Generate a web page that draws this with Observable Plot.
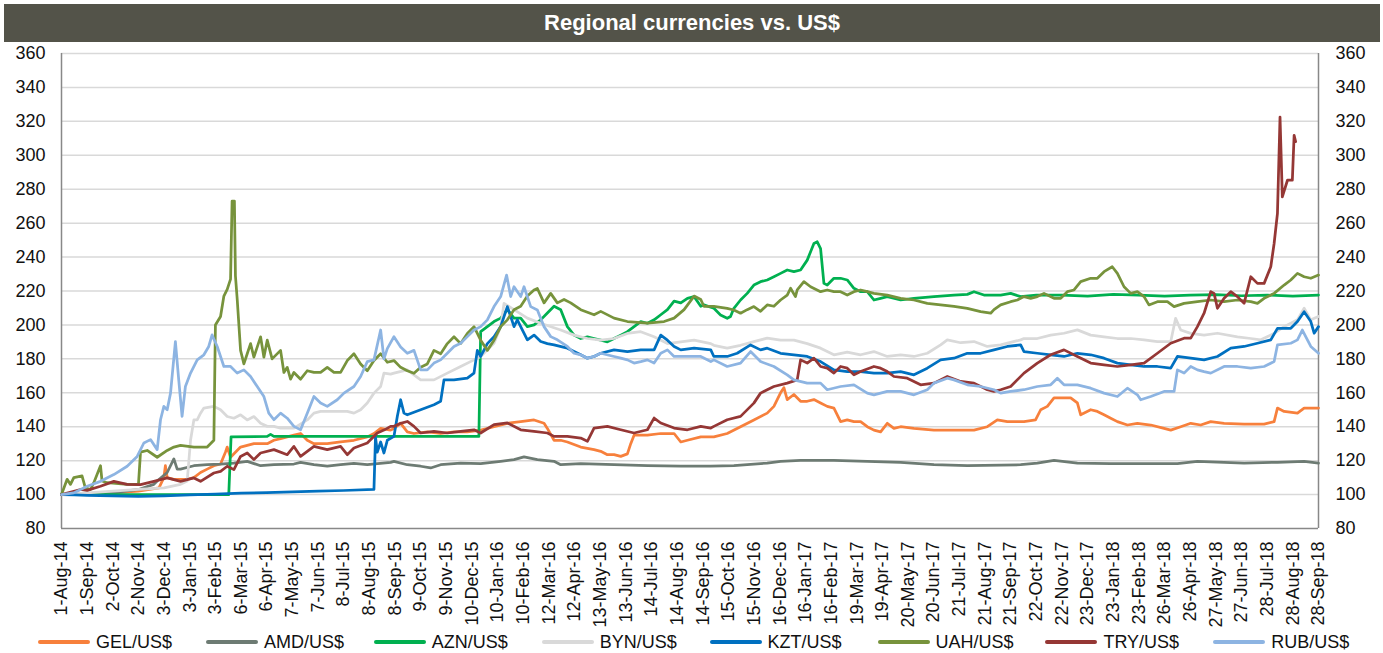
<!DOCTYPE html>
<html>
<head>
<meta charset="utf-8">
<script src="https://cdn.jsdelivr.net/npm/d3@7"></script>
<script src="https://cdn.jsdelivr.net/npm/@observablehq/plot@0.6"></script>
<style>
  html, body { margin: 0; padding: 0; background: #fff; }
  body { width: 1383px; height: 653px; position: relative; overflow: hidden;
         font-family: "Liberation Sans", Arial, sans-serif; }
  #title { position: absolute; left: 4px; top: 4px; width: 1376px; height: 38px;
           background: #535349; color: #fff; font-weight: bold; font-size: 22px;
           line-height: 38px; text-align: center; }
  #chart { position: absolute; left: 0; top: 42px; }
  #legend { position: absolute; left: 0; top: 631px; width: 1383px; height: 22px; }
  .item { position: absolute; top: 0; height: 22px; font-size: 18px; color: #111; white-space: nowrap; }
  .swatch { position: absolute; left: 0; top: 9px; width: 52px; height: 4px; border-radius: 2px; }
  .lbl { position: absolute; left: 58px; top: 0; line-height: 22px; }
</style>
</head>
<body>
<div id="title">Regional currencies vs. US$</div>
<div id="chart"></div>
<div id="legend"></div>
<script>
// x positions are in tick-label units: 0 = 1-Aug-14 ... 49 = 28-Sep-18
const xLabels = ["1-Aug-14","1-Sep-14","2-Oct-14","2-Nov-14","3-Dec-14","3-Jan-15","3-Feb-15","6-Mar-15","6-Apr-15","7-May-15","7-Jun-15","8-Jul-15","8-Aug-15","8-Sep-15","9-Oct-15","9-Nov-15","10-Dec-15","10-Jan-16","10-Feb-16","12-Mar-16","12-Apr-16","13-May-16","13-Jun-16","14-Jul-16","14-Aug-16","14-Sep-16","15-Oct-16","15-Nov-16","16-Dec-16","16-Jan-17","16-Feb-17","19-Mar-17","19-Apr-17","20-May-17","20-Jun-17","21-Jul-17","21-Aug-17","21-Sep-17","22-Oct-17","22-Nov-17","23-Dec-17","23-Jan-18","23-Feb-18","26-Mar-18","26-Apr-18","27-May-18","27-Jun-18","28-Jul-18","28-Aug-18","28-Sep-18"];
const yTicks = [80,100,120,140,160,180,200,220,240,260,280,300,320,340,360];

const seriesNames = ["GEL/US$","AMD/US$","AZN/US$","BYN/US$","KZT/US$","UAH/US$","TRY/US$","RUB/US$"];
const seriesColors = ["#f7803c","#6d7b73","#00b050","#d9d9d9","#0070c0","#77933c","#953735","#8db4e2"];

const gel = [[0,100],[1,100.5],[2,101],[3,102],[3.8,104],[3.99,110],[4.05,117],[4.12,110],[4.38,109],[4.9,109],[5.16,110],[5.42,113],[5.68,115],[5.94,117],[6.2,118],[6.39,125],[6.46,128],[6.59,122],[6.98,128],[7.24,129],[7.5,130],[8.02,130],[8.28,132],[8.54,133],[9.06,135],[9.32,136],[9.58,132],[9.84,130],[10.36,130],[10.88,131],[11.4,132],[11.92,134],[12.18,136],[12.44,139],[12.83,138],[12.96,139],[13.22,142],[13.48,137],[13.74,136],[14.26,137],[14.78,136],[15.3,137],[15.82,137],[16.34,138],[16.86,140],[17.38,142],[17.9,143],[18.42,144],[18.81,142],[18.94,139],[19.2,132],[19.46,132],[19.72,131],[20.24,128],[20.76,126.5],[21.02,125.5],[21.28,123.5],[21.54,123.5],[21.8,122.5],[22.06,124],[22.19,130],[22.32,135],[22.84,135],[23.36,136],[23.88,136],[24.14,131],[24.4,132],[24.92,134],[25.43,134],[25.95,136],[26.47,140],[26.99,144],[27.51,148],[27.77,152],[28.03,160],[28.16,163],[28.29,156],[28.55,159],[28.81,155],[29.07,155],[29.33,156],[29.59,154],[29.85,152],[30.11,151],[30.37,143],[30.63,144],[30.89,143],[31.15,143],[31.41,140],[31.67,138],[31.93,137],[32.19,142],[32.45,139],[32.71,140],[33.23,139],[34.01,138],[34.79,138],[35.57,138],[36.09,140],[36.48,144],[36.87,143],[37.52,143],[37.97,144],[38.17,150],[38.43,152],[38.69,157],[38.95,157],[39.34,157],[39.6,154],[39.73,147],[40.12,150],[40.38,149],[40.64,147],[40.9,145],[41.16,143],[41.55,141],[41.94,142],[42.46,141],[42.98,139],[43.24,138],[43.63,140],[44.02,142],[44.41,141],[44.8,143],[45.32,142],[46.1,141.5],[46.88,141.5],[47.27,143],[47.4,151],[47.66,149],[48.18,148],[48.44,151],[49,151]];

const amd = [[0,100],[1,100.5],[2,101],[3,103],[3.6,106],[3.73,108],[4.12,113],[4.38,121],[4.51,115],[4.64,115],[5.16,117],[5.68,117.6],[6.2,118],[6.72,118.6],[7.24,119.6],[7.76,117],[8.28,117.6],[9.06,118],[9.32,119],[9.84,117.6],[10.36,116.7],[10.88,117.6],[11.4,118.4],[11.92,117.6],[12.83,119],[12.96,119.6],[13.48,117.6],[14.0,116.7],[14.39,115.7],[14.78,117.6],[15.56,118.6],[16.34,118.2],[17.12,119.6],[17.64,120.6],[18.03,122.2],[18.55,120.6],[19.2,119.6],[19.46,117.6],[20.24,118.2],[21.54,117.6],[22.84,117],[24.14,116.7],[25.31,116.7],[26.21,117],[27.51,118.6],[28.03,119.6],[28.81,120.2],[30.11,120.2],[31.41,119.6],[32.71,119],[34.01,117.6],[35.31,117],[37.39,117.6],[38.04,118.6],[38.69,120.2],[39.6,118.6],[40.9,118.2],[42.2,118.2],[43.5,118.2],[44.28,119.6],[46.1,118.6],[47.4,119],[48.44,119.6],[49,118.6]];

const azn = [[0,100],[6.52,100],[6.61,134],[8.02,134.3],[8.15,135.5],[8.28,134.3],[12.83,134.3],[16.27,134.3],[16.34,196],[16.6,199],[16.86,202],[17.12,204],[17.38,209],[17.64,204],[17.9,204],[18.16,199],[18.42,200],[18.68,203],[18.94,207],[19.2,211],[19.46,209],[19.72,199],[19.98,194],[20.24,192],[20.5,193],[20.76,192],[21.02,191],[21.28,190],[21.54,192],[21.8,194],[22.06,196],[22.32,199],[22.58,202],[22.84,201],[23.1,203],[23.36,206],[23.62,209],[23.88,214],[24.14,213],[24.4,215.7],[24.66,216.7],[24.92,211],[25.04,211.8],[25.43,209.8],[25.69,205.9],[25.95,203.9],[26.08,205],[26.21,209.8],[26.47,214.7],[26.73,218.6],[26.99,223.5],[27.25,225.5],[27.51,226.5],[27.77,228.4],[28.03,230.4],[28.29,232.4],[28.55,231.4],[28.81,232.4],[29.07,238.2],[29.33,248],[29.46,249],[29.59,245],[29.72,224.5],[29.85,223.5],[30.11,227.5],[30.37,227.5],[30.63,226.5],[30.89,221.6],[31.15,219.6],[31.41,219.6],[31.67,214.7],[31.93,215.7],[32.19,216.7],[32.71,214.7],[33.23,215.7],[34.01,216.7],[34.79,217.6],[35.31,218],[35.57,219.6],[35.96,217.6],[36.61,217.6],[37.0,218.6],[37.39,216.7],[38,217.6],[39,217.6],[40,217],[41,218],[42,217.5],[43,217],[44,217.5],[45,217.8],[46,217.2],[47,217.6],[48,217],[49,217.6]];

const byn = [[0,100],[1,101],[2,102],[3,103],[4,104],[4.64,106],[4.9,108],[5.03,132],[5.16,144],[5.29,144],[5.42,148],[5.55,151],[5.94,152],[6.2,150],[6.46,146],[6.72,145],[6.98,147],[7.24,144],[7.5,146],[7.76,142],[8.02,140.2],[8.28,140.2],[8.54,139.2],[9.06,139.2],[9.58,144],[9.84,148],[10.1,149],[10.62,149],[11.14,149],[11.4,148],[11.66,150],[11.92,154],[12.18,159.8],[12.44,163.7],[12.57,171.6],[12.83,171],[12.96,171.6],[13.48,173.5],[14.0,167.6],[14.52,167.6],[15.04,171.6],[15.56,175.5],[16.08,179.4],[16.34,181.4],[16.6,185.3],[16.86,189.2],[17.12,199],[17.25,212.7],[17.64,209],[18.16,204],[18.68,201],[19.46,197],[19.98,194],[20.5,192],[21.02,191],[21.54,192],[22.06,195],[22.58,196],[23.1,193],[23.62,189],[24.14,190],[24.66,191],[25.31,189],[25.43,188],[25.95,186.3],[26.47,188],[26.99,190.2],[27.51,192.2],[28.03,191],[28.55,191],[29.07,189],[29.59,186.3],[30.11,182.4],[30.63,184],[31.15,182.4],[31.67,184.3],[32.19,181.4],[32.71,182.4],[33.23,181.4],[33.75,183.3],[34.27,188.2],[34.53,191.2],[35.05,189.5],[35.57,190.2],[36.09,187.3],[36.61,188.2],[37.39,191.2],[37.52,192],[38.04,192],[38.56,194],[39.08,195.1],[39.6,197.1],[40.12,194],[40.64,193],[41.16,192],[41.68,192],[42.2,191.2],[42.72,190.2],[43.24,190.2],[43.43,203.9],[43.63,197],[44.02,195],[44.54,194],[45.06,195.1],[45.84,193],[46.36,192],[46.75,191.2],[47.27,195],[47.66,199],[48.18,203],[48.44,209.8],[48.7,203],[49,205]];

const kzt = [[0,100],[0.5,99.8],[1,99.5],[2,99.2],[3,99],[4,99.3],[5,99.8],[6,100.3],[7,100.8],[8,101.2],[9,101.6],[10,102],[11,102.4],[12.18,103],[12.24,134],[12.31,125],[12.44,131],[12.57,124.5],[12.7,132],[12.96,134.3],[13.09,146],[13.22,155.9],[13.35,148],[13.48,147],[14.0,150],[14.52,153],[14.78,155],[14.91,167.6],[15.3,167.6],[15.82,168.6],[16.08,171.6],[16.21,185],[16.34,181.4],[16.6,189],[16.86,193],[17.12,199],[17.38,210.8],[17.51,205],[17.64,199],[17.77,203],[17.9,199],[18.16,191.2],[18.42,194],[18.68,190.2],[18.94,189],[19.2,188.2],[19.72,186.3],[20.24,182.4],[20.5,180.4],[20.76,181.4],[21.02,183.3],[21.54,185.3],[22.06,184.3],[22.58,185.3],[23.1,185.3],[23.36,194],[23.62,191],[23.88,187.3],[24.14,185.3],[24.66,186.3],[25.31,185.3],[25.43,181.4],[25.95,181.4],[26.34,183.3],[26.86,188.2],[27.25,185.3],[27.51,186.3],[28.03,183.3],[28.55,182.4],[29.07,181.4],[29.59,178.4],[30.11,173.5],[30.63,172.5],[31.15,172.5],[31.67,171.6],[32.19,171.6],[32.71,172.5],[33.23,170.6],[33.75,174.5],[34.27,179.4],[34.79,180.4],[35.31,183.3],[35.83,183.3],[36.35,185.3],[36.87,187.3],[37.39,188.2],[37.52,184.3],[38.04,183.3],[38.56,182.4],[39.08,181.4],[39.6,183.3],[40.12,182.4],[40.64,180.4],[41.16,177.5],[41.68,176.5],[42.2,175.5],[42.72,175.5],[43.24,174.5],[43.5,181.4],[44.02,180.4],[44.54,179.4],[45.06,181.4],[45.58,186.3],[46.1,187.3],[46.62,189.2],[47.14,191.2],[47.4,198],[47.92,198],[48.18,202],[48.44,207.8],[48.7,202],[48.83,195.1],[49,199]];

const uah = [[0,100],[0.22,109],[0.35,106],[0.48,110],[0.8,111],[0.93,104],[1.13,103],[1.26,107],[1.52,117],[1.58,108],[1.78,107],[2.56,106],[3.0,106],[3.08,125],[3.34,126],[3.73,122],[4.12,126],[4.38,128],[4.64,129],[5.16,128],[5.68,128],[5.94,132],[6.0,200],[6.2,205],[6.33,217],[6.46,221],[6.59,227],[6.65,273],[6.74,273],[6.78,229],[6.85,215],[6.98,185],[7.11,177],[7.24,183],[7.37,189],[7.5,181],[7.76,193],[7.89,181],[8.02,191],[8.21,180],[8.54,185],[8.67,172],[8.8,175],[8.93,168],[9.06,172],[9.32,168],[9.58,173],[9.84,172],[10.1,172],[10.36,175],[10.62,172],[10.88,172],[11.14,179],[11.4,183],[11.66,177],[11.92,173],[12.18,179],[12.44,183],[12.7,178],[12.96,179],[13.22,175],[13.48,173],[13.74,171.5],[14.0,175],[14.26,177],[14.52,185],[14.78,183],[15.04,189],[15.3,193],[15.56,189],[15.82,195],[16.08,199],[16.34,191],[16.6,185],[16.86,191],[17.12,199],[17.38,203],[17.64,209],[17.9,211],[18.16,217],[18.42,220.6],[18.55,221.5],[18.81,213],[19.07,218.6],[19.33,213],[19.59,215],[19.85,213],[20.24,209],[20.76,206],[21.02,208],[21.54,204],[22.06,202],[22.84,201],[23.49,202],[23.88,204],[24.27,209],[24.66,217],[24.92,215],[25.04,211],[25.43,211],[25.95,209.8],[26.21,208.8],[26.47,206.9],[26.73,209],[26.99,210.8],[27.25,208],[27.51,211.8],[27.77,211],[28.03,214.7],[28.29,217.6],[28.42,221.6],[28.61,216.7],[28.68,220.6],[28.94,225.5],[29.2,222.5],[29.59,219.6],[29.85,220.6],[30.11,219.6],[30.37,219.6],[30.63,217.6],[30.89,219.6],[31.15,220.6],[31.41,219.6],[31.67,218.6],[32.19,217.6],[32.71,215.7],[33.23,214.7],[33.75,212.7],[34.27,211.8],[34.79,211],[35.31,209.8],[35.83,207.8],[36.22,206.9],[36.35,209],[36.61,211.8],[37.0,213.7],[37.26,214.7],[37.52,216.7],[37.78,215.7],[38.04,216.7],[38.3,218.6],[38.69,215.7],[38.95,215.7],[39.21,219.6],[39.47,220.6],[39.73,225.5],[40.12,227.5],[40.38,227.5],[40.64,231.4],[40.96,234.3],[41.16,230.4],[41.42,222.5],[41.68,218.6],[41.94,219.6],[42.2,216.7],[42.39,211.8],[42.72,213.7],[43.11,213.7],[43.37,210.8],[43.76,212.7],[44.28,213.7],[44.8,214.7],[45.32,213.7],[45.84,214.7],[46.36,213.7],[46.62,212.7],[46.88,215.7],[47.27,218.6],[47.66,223.5],[47.92,226.5],[48.18,230.4],[48.44,228.4],[48.7,227.5],[49,229.4]];

const tryS = [[0,100],[0.74,103],[1.0,102.5],[1.52,104.9],[2.04,107.8],[2.56,106],[3.08,105.9],[3.6,107.8],[4.12,109.8],[4.64,107.8],[5.16,109.8],[5.42,107.8],[5.94,112.7],[6.2,113.7],[6.46,116.7],[6.72,114.7],[6.98,122.5],[7.24,124.5],[7.5,120.6],[7.76,124.5],[8.28,126.5],[8.8,123.5],[9.06,128.4],[9.32,122.5],[9.58,125.5],[9.84,128.4],[10.36,126.5],[10.88,128.4],[11.14,123.5],[11.4,127.5],[11.92,130.4],[12.31,136.3],[12.57,138],[12.83,140.2],[12.96,140.2],[13.22,142],[13.48,143.1],[13.74,140.2],[14.0,136.3],[14.52,137.3],[15.04,136.3],[15.56,137.3],[16.08,138.2],[16.34,136.3],[16.86,141.2],[17.38,142.2],[17.9,138.2],[18.42,137.3],[18.94,136.3],[19.2,134.3],[19.72,134.3],[20.24,133.3],[20.5,131.4],[20.76,139.2],[21.28,140.2],[21.8,138.2],[22.32,136.3],[22.84,138.2],[23.1,145.1],[23.36,142.2],[23.88,139.2],[24.4,138.2],[24.92,140.2],[25.31,139.2],[25.43,140.2],[25.95,144.1],[26.47,146.1],[26.99,153.9],[27.25,159.8],[27.51,161.8],[27.77,163.7],[28.29,165.7],[28.68,167.6],[28.81,179.4],[29.07,177.5],[29.33,180.4],[29.59,175.5],[29.85,174.5],[30.11,171.6],[30.37,175.5],[30.63,174.5],[30.89,170.6],[31.15,172.5],[31.67,175.5],[31.93,174.5],[32.19,172.5],[32.45,169.6],[32.97,168.6],[33.49,164.7],[34.01,165.7],[34.53,169.6],[35.05,166.7],[35.57,165.7],[36.09,161.8],[36.35,160.8],[36.61,161.8],[37.0,163.7],[37.52,171.6],[38.04,177.5],[38.56,182.4],[39.08,185.3],[39.6,181.4],[40.12,177.5],[40.64,176.5],[41.16,175.5],[41.68,176.5],[42.2,177.5],[42.72,183.3],[43.24,189.2],[43.76,192.2],[44.02,192.2],[44.28,199],[44.54,206.9],[44.8,219.6],[44.93,218.6],[45.06,209.8],[45.32,215.7],[45.58,219.6],[45.84,216.7],[46.1,212.7],[46.36,228.4],[46.62,224.5],[46.88,224.5],[47.14,234.3],[47.27,248],[47.4,265.7],[47.5,322.5],[47.59,275.5],[47.79,285.3],[47.98,285.3],[48.05,311.8],[48.11,308]];

const rub = [[0,100],[0.48,101],[1.0,104.9],[1.52,107.8],[2.04,111.8],[2.56,116.7],[2.95,122.5],[3.21,130.4],[3.47,132.4],[3.73,126.5],[3.86,144.1],[3.99,152],[4.12,150],[4.25,159.8],[4.44,190.2],[4.57,167.6],[4.7,146.1],[4.83,163.7],[5.03,171.6],[5.29,179.4],[5.55,182.4],[5.74,187.3],[5.87,194.1],[6.07,187.3],[6.33,175.5],[6.59,175.5],[6.85,171.6],[7.11,173.5],[7.37,169.6],[7.63,163.7],[7.89,157.8],[8.08,148],[8.28,144.1],[8.54,148],[8.8,145],[9.06,140.2],[9.32,138.2],[9.58,148],[9.84,157.8],[10.1,154],[10.36,152],[10.75,155.9],[11.01,159.8],[11.4,163.7],[11.66,169.6],[11.92,178.4],[12.18,179.4],[12.44,197],[12.57,180],[12.7,186],[12.96,193.1],[13.22,187],[13.48,183.3],[13.74,185],[14.0,173.5],[14.26,173.5],[14.52,177.5],[14.78,179.4],[15.04,183.3],[15.3,187.3],[15.56,189.2],[15.82,193.1],[16.08,197],[16.34,199],[16.6,203],[16.86,210.8],[17.12,216.7],[17.35,229.4],[17.51,216.7],[17.64,222.5],[17.9,216.7],[18.03,222.5],[18.29,210.8],[18.55,208.8],[18.81,199],[19.07,193.1],[19.33,191.2],[19.72,187.3],[19.98,183.3],[20.24,182.4],[20.5,180.4],[20.76,181.4],[21.02,183.3],[21.54,181.4],[21.8,180.4],[22.06,179.4],[22.32,177.5],[22.58,178.4],[22.84,179.4],[23.1,177.5],[23.36,183.3],[23.62,185.3],[23.88,181.4],[24.14,181.4],[24.66,181.4],[24.92,181.4],[25.31,178.4],[25.43,179.4],[25.95,175.5],[26.47,177.5],[26.86,184.3],[27.25,178.4],[27.77,175.5],[28.29,170.6],[28.55,167.6],[29.07,165.7],[29.59,165.7],[29.85,161.8],[30.37,163.7],[30.89,164.7],[31.41,159.8],[31.67,158.8],[32.19,160.8],[32.71,160.8],[33.23,158.8],[33.75,161.8],[34.01,165.7],[34.53,168.6],[34.79,167.6],[35.31,164.7],[35.83,163.7],[36.35,161.8],[36.61,159.8],[37.0,160.8],[37.52,161.8],[38.04,163.7],[38.56,164.7],[38.82,168.6],[39.08,164.7],[39.6,164.7],[40.12,162.7],[40.64,159.8],[41.16,157.8],[41.55,162.7],[41.94,158.8],[42.07,155.9],[42.46,157.8],[42.98,160.8],[43.37,160.8],[43.5,173.5],[43.76,171.6],[44.02,175.5],[44.28,173.5],[44.54,172.5],[44.8,171.6],[45.32,175.5],[45.84,175.5],[46.36,174.5],[46.88,175.5],[47.27,178.4],[47.4,188.2],[47.92,189.2],[48.18,191.2],[48.37,197],[48.7,187.3],[49,183.3]];

const seriesData = [gel, amd, azn, byn, kzt, uah, tryS, rub];

const rows = seriesData.flatMap((arr, i) => arr.map(([t, v]) => ({t, v, name: seriesNames[i]})));

const font = '"Liberation Sans", Arial, sans-serif';

const chart = Plot.plot({
  width: 1383,
  height: 585,
  marginLeft: 61,
  marginRight: 65,
  marginTop: 11,
  marginBottom: 99,
  style: {fontFamily: font, color: "#111", background: "transparent", overflow: "visible"},
  x: {domain: [0, 49]},
  y: {domain: [80, 360]},
  color: {domain: seriesNames, range: seriesColors},
  marks: [
    Plot.ruleY(yTicks.filter(d => d > 80), {stroke: "#d9d9d9", strokeWidth: 1.5}),
    Plot.ruleY([80], {stroke: "#888", strokeWidth: 1.5}),
    Plot.ruleX([0, 49], {stroke: "#888", strokeWidth: 1.5}),
    ...seriesNames.map(n => Plot.line(rows.filter(r => r.name === n), {
      x: "t", y: "v", stroke: "name", strokeWidth: 2.75, strokeLinejoin: "round", strokeLinecap: "round"
    })),
    Plot.axisY(yTicks, {anchor: "left", tickSize: 0, tickPadding: 16, fontSize: 18, label: null}),
    Plot.axisY(yTicks, {anchor: "right", tickSize: 0, tickPadding: 17, fontSize: 18, label: null}),
    Plot.axisX(d3.range(50), {anchor: "bottom", tickSize: 0, tickPadding: 13, tickRotate: -90,
      tickFormat: i => xLabels[i], fontSize: 18, label: null})
  ]
});
document.getElementById("chart").appendChild(chart);

// legend
const legend = document.getElementById("legend");
seriesNames.forEach((n, i) => {
  const item = document.createElement("div");
  item.className = "item";
  item.style.left = (38 + i * 167.9) + "px";
  const sw = document.createElement("div");
  sw.className = "swatch";
  sw.style.background = seriesColors[i];
  const lb = document.createElement("div");
  lb.className = "lbl";
  lb.textContent = n;
  item.appendChild(sw);
  item.appendChild(lb);
  legend.appendChild(item);
});
</script>
</body>
</html>
